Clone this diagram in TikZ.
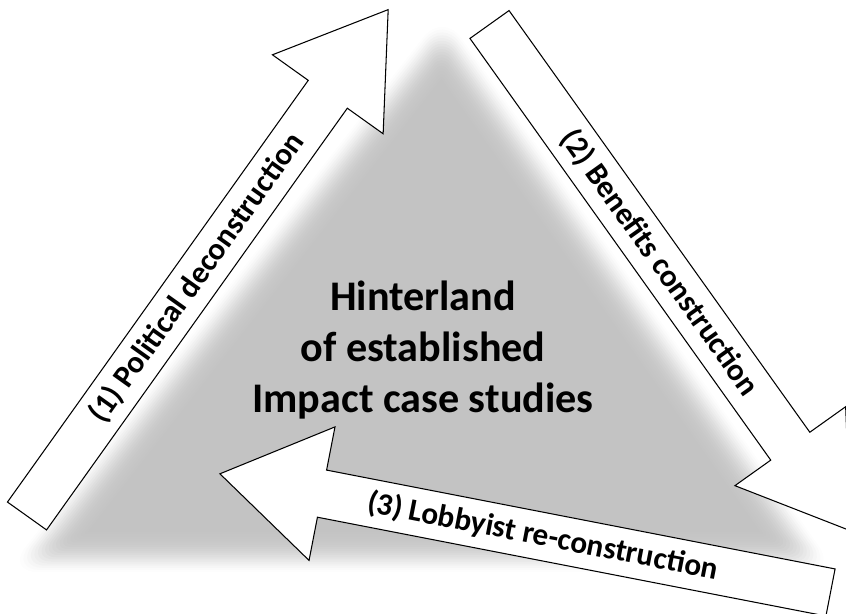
\documentclass[tikz,border=0pt]{standalone}
\usepackage{fontspec}
\setmainfont{Carlito}
\definecolor{hubgray}{RGB}{195,195,195}
\tikzset{
  arrowbody/.style={fill=white, draw=black, line width=0.6pt, line join=miter},
  armlabel/.style={font=\bfseries\fontsize{17.8}{20}\selectfont, inner sep=0pt},
  hubtext/.style={font=\bfseries\fontsize{24}{29}\selectfont, align=center, inner sep=0pt}
}
\begin{document}
\begin{tikzpicture}[x=0.02cm, y=0.02cm]
\useasboundingbox (0,0) rectangle (846,614);
\clip (0,0) rectangle (846,614);
\pgfmathsetmacro\shaft{518}
\pgfmathsetmacro\half{24}
\pgfmathsetmacro\barb{68}
\pgfmathsetmacro\head{104}
% soft edged triangle
\foreach \k in {0,...,19} {
  \pgfmathsetmacro\f{1-0.19*\k/19}
  \pgfmathsetmacro\op{0.04+0.3*\k/19}
  \pgfmathsetlengthmacro\rc{(19-\k)*0.9pt+1pt}
  \fill[hubgray, opacity=\op, rounded corners=\rc, scale around={\f:(434.3,251.4)}] (443,602) -- (6,42) -- (837,42) -- cycle;
}
\fill[hubgray, scale around={0.81:(434.3,251.4)}] (443,602) -- (6,42) -- (837,42) -- cycle;
\node[hubtext] (hub) at (423,264) {Hinterland\\of established\\Impact case studies};
% arrow 1
\begin{scope}[shift={(27,98)}, rotate=54.5]
\draw[arrowbody] (0,-\half) -- (\shaft,-\half) -- (\shaft,-\barb) -- (\shaft+\head,0) -- (\shaft,\barb) -- (\shaft,\half) -- (0,\half) -- cycle;
\node[armlabel, transform shape] (political) at (293,0) {(1) Political deconstruction};
\end{scope}
% arrow 2
\begin{scope}[shift={(489.5,589.5)}, rotate=-54.5]
\draw[arrowbody] (0,-\half) -- (\shaft,-\half) -- (\shaft,-\barb) -- (\shaft+\head,0) -- (\shaft,\barb) -- (\shaft,\half) -- (0,\half) -- cycle;
\node[armlabel, transform shape] (benefits) at (293,0) {(2) Benefits construction};
\end{scope}
% arrow 3
\begin{scope}[shift={(830.5,21.5)}, rotate=169]
\draw[arrowbody] (0,-\half) -- (\shaft,-\half) -- (\shaft,-\barb) -- (\shaft+\head,0) -- (\shaft,\barb) -- (\shaft,\half) -- (0,\half) -- cycle;
\node[armlabel, transform shape, rotate=180] (lobbyist) at (293,0) {(3) Lobbyist re-construction};
\end{scope}
\end{tikzpicture}
\end{document}
